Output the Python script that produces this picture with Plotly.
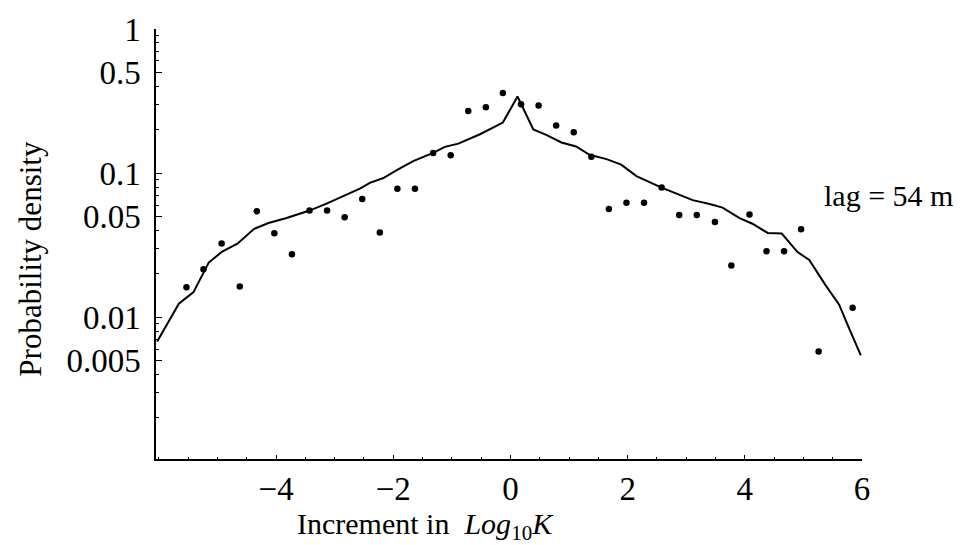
import plotly.graph_objects as go

# observed bin points
pts_x = [-5.53, -5.24, -4.93, -4.62, -4.33, -4.03, -3.73, -3.43, -3.13, -2.83, -2.53, -2.23,
         -1.93, -1.63, -1.32, -1.02, -0.72, -0.42, -0.13, 0.18, 0.48, 0.78, 1.08, 1.38,
         1.68, 1.98, 2.28, 2.58, 2.88, 3.18, 3.49, 3.77, 4.08, 4.37, 4.67, 4.96, 5.26, 5.84]
pts_y = [0.0161, 0.0215, 0.0324, 0.0163, 0.0543, 0.0382, 0.0273, 0.0549, 0.0549, 0.0494, 0.0660, 0.0386,
         0.0777, 0.0777, 0.138, 0.133, 0.270, 0.286, 0.360, 0.300, 0.294, 0.214, 0.192, 0.130,
         0.0563, 0.0623, 0.0623, 0.0793, 0.0512, 0.0512, 0.0457, 0.0228, 0.0515, 0.0286, 0.0286, 0.0407,
         0.00578, 0.0116]

# model curve
line_x = [-6.03, -5.66, -5.41, -5.15, -4.92, -4.66, -4.38, -4.13, -3.82, -3.43, -3.13, -2.85,
          -2.57, -2.40, -2.17, -1.91, -1.66, -1.32, -1.12, -0.89, -0.52, -0.13, 0.12, 0.39,
          0.61, 0.87, 1.12, 1.35, 1.64, 1.89, 2.15, 2.58, 2.88, 3.11, 3.40, 3.62, 3.91, 4.13,
          4.39, 4.63, 4.90, 5.10, 5.38, 5.61, 5.78, 5.98]
line_y = [0.00677, 0.0124, 0.0149, 0.0239, 0.0285, 0.0323, 0.0409, 0.045, 0.0487, 0.0549, 0.0616, 0.0691,
          0.078, 0.0855, 0.0924, 0.1065, 0.121, 0.138, 0.152, 0.160, 0.186, 0.224, 0.340, 0.201,
          0.184, 0.163, 0.153, 0.134, 0.125, 0.1145, 0.0953, 0.0793, 0.0703, 0.0649, 0.0609, 0.0576, 0.0486, 0.0445,
          0.0384, 0.038, 0.0283, 0.0249, 0.0166, 0.0122, 0.00836, 0.00543]

x_ticks = [-4, -2, 0, 2, 4, 6]
x_tick_text = ["\u22124", "\u22122", "0", "2", "4", "6"]
x_minor = [v / 2 for v in range(-12, 13)]
y_ticks = [1, 0.5, 0.1, 0.05, 0.01, 0.005]
y_tick_text = ["1", "0.5", "0.1", "0.05", "0.01", "0.005"]
y_minor = [m * 10 ** e for e in (-3, -2, -1) for m in range(2, 10)]

FONT = "Liberation Serif"

fig = go.Figure()
fig.add_trace(go.Scatter(x=line_x, y=line_y, mode="lines",
                         line=dict(color="black", width=2), showlegend=False))
fig.add_trace(go.Scatter(x=pts_x, y=pts_y, mode="markers",
                         marker=dict(color="black", size=6.5), showlegend=False))

fig.update_layout(
    width=968, height=545,
    margin=dict(l=156, r=106, t=23, b=86),
    paper_bgcolor="white", plot_bgcolor="white",
    font=dict(family=FONT, color="black", size=30),
    xaxis=dict(range=[-6.05, 6.0], showgrid=False, zeroline=False,
               showline=True, linecolor="black", linewidth=1.5,
               tickmode="array", tickvals=x_ticks, ticktext=x_tick_text,
               ticks="inside", ticklen=4, tickwidth=1.2, tickcolor="black",
               ticklabelstandoff=0,
               tickfont=dict(family=FONT, size=33, color="black"),
               minor=dict(tickmode="array", tickvals=x_minor, ticks="inside",
                          ticklen=2, tickwidth=1, tickcolor="black", showgrid=False)),
    yaxis=dict(type="log", range=[-2.985, 0.0], showgrid=False, zeroline=False,
               showline=True, linecolor="black", linewidth=1.5,
               tickmode="array", tickvals=y_ticks, ticktext=y_tick_text,
               ticks="inside", ticklen=6, tickwidth=1.2, tickcolor="black",
               ticklabelstandoff=7,
               tickfont=dict(family=FONT, size=33, color="black"),
               minor=dict(tickmode="array", tickvals=y_minor, ticks="inside",
                          ticklen=3, tickwidth=1, tickcolor="black", showgrid=False)),
    annotations=[
        dict(text="Probability density", xref="paper", yref="paper",
             x=-0.177, y=0.466, xanchor="center", yanchor="middle",
             textangle=-90, showarrow=False, font=dict(family=FONT, size=31, color="black")),
        dict(text="Increment in  <i>Log</i><sub>10</sub><i>K</i>", xref="paper", yref="paper",
             x=0.382, y=-0.156, xanchor="center", yanchor="middle",
             showarrow=False, font=dict(family=FONT, size=30, color="black")),
        dict(text="lag = 54 m", xref="paper", yref="paper",
             x=1.038, y=0.612, xanchor="center", yanchor="middle",
             showarrow=False, font=dict(family=FONT, size=30, color="black")),
    ],
)

fig.write_html("out.html")
